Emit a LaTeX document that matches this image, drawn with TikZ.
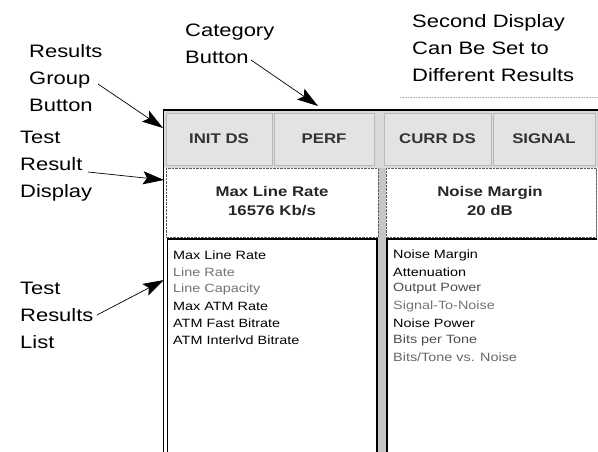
\documentclass[tikz,border=0pt]{standalone}
\usepackage{fontspec}
\setmainfont{Liberation Sans}
\newfontfamily\lblfont[FakeStretch=1.22]{Liberation Sans}
\newfontfamily\scrfont[FakeStretch=1.2]{Liberation Sans}
\usetikzlibrary{arrows.meta}

\begin{document}
\begin{tikzpicture}[x=1pt,y=-1pt,
  pointer/.style={-{Stealth[length=21pt,width=13pt,inset=4pt]},line width=0.7pt},
  lbl/.style={font=\lblfont\fontsize{18}{27}\selectfont,align=left,inner sep=0pt,anchor=west},
  btn/.style={draw=gray!55,fill=gray!22,minimum height=52pt,inner sep=0pt,
    font=\scrfont\bfseries\fontsize{14}{16}\selectfont,text=black!80},
  shown/.style={font=\scrfont\bfseries\fontsize{14}{19}\selectfont,align=center,text=black!85},
  item/.style={font=\scrfont\fontsize{12}{14}\selectfont,anchor=west,inner sep=0pt}]
\useasboundingbox (0,0) rectangle (598,452);
% faint trace under the second label
\draw[gray!60,densely dotted,line width=0.6pt] (400,97) -- (598,97);
% button row
\fill[gray!30] (164,110) rectangle (598,168);
\node[btn,minimum width=106pt] (initds) at (219,139) {INIT DS};
\node[btn,minimum width=100pt] (perf) at (324,139) {PERF};
\node[btn,minimum width=107pt] (currds) at (437.5,139) {CURR DS};
\node[btn,minimum width=102pt] (signal) at (544,139) {SIGNAL};
% result display row
\fill[gray!45] (378,168) rectangle (386,452);
\draw[densely dotted,gray!70!black] (166,168) rectangle (378,237);
\draw[densely dotted,gray!70!black] (386,168) rectangle (596,237);
\node[shown] (leftshow) at (272,201) {Max Line Rate\\16576 Kb/s};
\node[shown] (rightshow) at (490,201) {Noise Margin\\20 dB};
% result lists
\draw[line width=1.6pt] (167,239) -- (377,239) -- (377,452);
\draw[line width=1.6pt] (387,452) -- (387,239) -- (597,239);
\foreach \txt/\col [count=\i] in {Max Line Rate/black,Line Rate/black!55,
    Line Capacity/black!55,Max ATM Rate/black,ATM Fast Bitrate/black,
    ATM Interlvd Bitrate/black}
  \node[item,text=\col] (left\i) at (173,238+17*\i) {\txt};
\foreach \txt/\col [count=\i] in {Noise Margin/black,Attenuation/black,
    Output Power/black!70,Signal-To-Noise/black!55,Noise Power/black,
    Bits per Tone/black!70,{Bits/Tone vs. Noise}/black!60}
  \node[item,text=\col] (right\i) at (393,238+17*\i) {\txt};
% frame
\draw[line width=1.5pt] (163,110) -- (598,110);
\draw[line width=1.3pt] (163.5,110) -- (163.5,452);
\draw[line width=0.9pt] (167.5,239) -- (167.5,452);
\draw[densely dotted,gray] (596,168) -- (596,237);
% labels
\node[lbl] (cat) at (185,44) {Category\\Button};
\node[lbl] (grp) at (29,78) {Results\\Group\\Button};
\node[lbl] (disp) at (20,166) {Test\\Result\\Display};
\node[lbl] (lst) at (20,315) {Test\\Results\\List};
\node[lbl] (sec) at (412,48) {Second Display\\Can Be Set to\\Different Results};
\coordinate (cattail) at (251,60);
\coordinate (grptail) at (98,84);
\coordinate (disptail) at (88,172);
\coordinate (lsttail) at (97,315);
\coordinate (cathead) at (318,106);
\coordinate (grphead) at (163,128);
\coordinate (disphead) at (164,180);
\coordinate (lsthead) at (164,280);
\draw[pointer] (cattail) -- (cathead);
\draw[pointer] (grptail) -- (grphead);
\draw[pointer] (disptail) -- (disphead);
\draw[pointer] (lsttail) -- (lsthead);
\end{tikzpicture}
\end{document}
